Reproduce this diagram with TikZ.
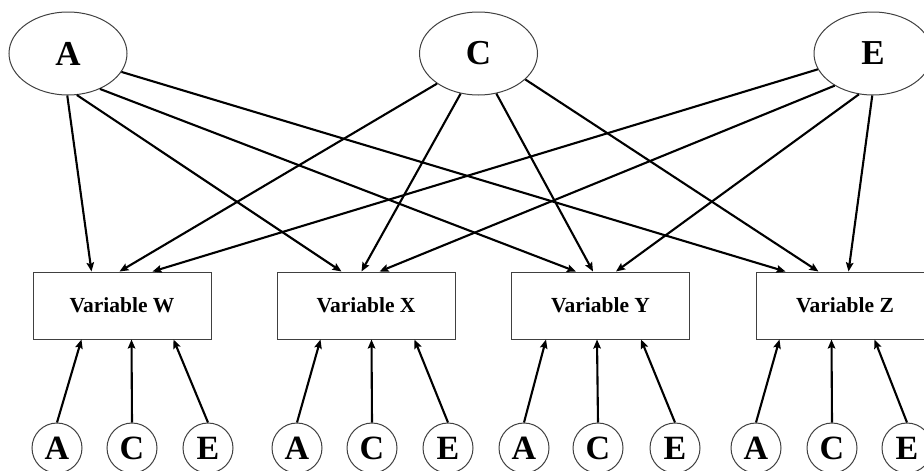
\documentclass[tikz,border=0pt]{standalone}
\usepackage{fontspec}
\setmainfont{Liberation Serif}
\usetikzlibrary{shapes.geometric,arrows.meta,calc}
\begin{document}
\begin{tikzpicture}[x=1pt,y=-1pt,
  latent/.style={draw=black!75,line width=1pt,ellipse,minimum width=118pt,minimum height=83pt,inner sep=0pt,font=\bfseries\fontsize{35}{35}\selectfont},
  small/.style={draw=black!75,line width=1pt,circle,minimum size=50pt,inner sep=0pt,font=\bfseries\fontsize{34}{34}\selectfont},
  varbox/.style={draw=black!75,line width=1pt,rectangle,minimum width=178pt,minimum height=67pt,inner sep=0pt,font=\bfseries\fontsize{21.5}{21.5}\selectfont},
  arr/.style={line width=2.1pt,-{Stealth[length=9pt,width=7.5pt,inset=1.5pt]}}]
\clip (0,0) rectangle (924,471);
\fill[white] (0,0) rectangle (924,471);
% top latent factors
\node[latent] (tA) at (68,53.5) {A};
\node[latent] (tC) at (478.5,53.5) {C};
\node[latent] (tE) at (873,53.5) {E};
% boxes
\node[varbox] (W) at (122,305.5) {Variable W};
\node[varbox] (X) at (366,305.5) {Variable X};
\node[varbox] (Y) at (600.5,305.5) {Variable Y};
\node[varbox] (Z) at (845,305.5) {Variable Z};
% bottom circles
\node[small] (Wa) at (57,448) {A};
\node[small] (Wc) at (132,448) {C};
\node[small] (We) at (208,448) {E};
\node[small] (Xa) at (297,448) {A};
\node[small] (Xc) at (372,448) {C};
\node[small] (Xe) at (448,448) {E};
\node[small] (Ya) at (524,448) {A};
\node[small] (Yc) at (598,448) {C};
\node[small] (Ye) at (675,448) {E};
\node[small] (Za) at (756,448) {A};
\node[small] (Zc) at (832,448) {C};
\node[small] (Ze) at (907,448) {E};
% top arrows from A
\draw[arr] (tA.-91) -- ($(W.north west)+(59,0)$);
\draw[arr] (tA.-78) -- ($(X.north west)+(65,0)$);
\draw[arr] (tA.-48) -- ($(Y.north west)+(65,0)$);
\draw[arr] (tA.-19) -- ($(Z.north west)+(30,0)$);
% top arrows from C
\draw[arr] (tC.-144) -- ($(W.north west)+(87,0)$);
\draw[arr] (tC.-114) -- ($(X.north west)+(85,0)$);
\draw[arr] (tC.-66) -- ($(Y.north west)+(82,0)$);
\draw[arr] (tC.-29) -- ($(Z.north west)+(63,0)$);
% top arrows from E
\draw[arr] (tE.-164) -- ($(W.north west)+(120,0)$);
\draw[arr] (tE.-140) -- ($(X.north west)+(103,0)$);
\draw[arr] (tE.-109) -- ($(Y.north west)+(105,0)$);
\draw[arr] (tE.-91) -- ($(Z.north west)+(93,0)$);
% bottom arrows
\draw[arr] (Wa.north) -- ($(W.south west)+(49,0)$);
\draw[arr] (Wc.north) -- ($(W.south west)+(99,0)$);
\draw[arr] (We.north) -- ($(W.south west)+(141,0)$);
\draw[arr] (Xa.north) -- ($(X.south west)+(44,0)$);
\draw[arr] (Xc.north) -- ($(X.south west)+(95,0)$);
\draw[arr] (Xe.north) -- ($(X.south west)+(138,0)$);
\draw[arr] (Ya.north) -- ($(Y.south west)+(35,0)$);
\draw[arr] (Yc.north) -- ($(Y.south west)+(86,0)$);
\draw[arr] (Ye.north) -- ($(Y.south west)+(130,0)$);
\draw[arr] (Za.north) -- ($(Z.south west)+(24,0)$);
\draw[arr] (Zc.north) -- ($(Z.south west)+(76,0)$);
\draw[arr] (Ze.north) -- ($(Z.south west)+(119,0)$);
\end{tikzpicture}
\end{document}
